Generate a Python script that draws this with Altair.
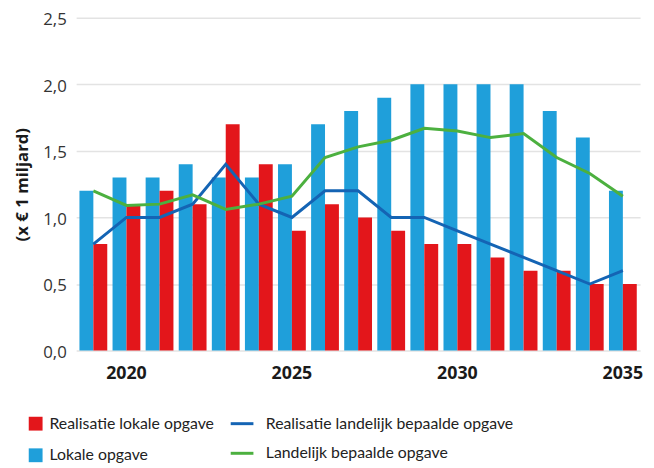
import altair as alt
import pandas as pd

years = list(range(2019, 2036))
lokale_opgave = [1.2, 1.3, 1.3, 1.4, 1.3, 1.3, 1.4, 1.7, 1.8, 1.9, 2.0, 2.0, 2.0, 2.0, 1.8, 1.6, 1.2]
realisatie_lokale = [0.8, 1.1, 1.2, 1.1, 1.7, 1.4, 0.9, 1.1, 1.0, 0.9, 0.8, 0.8, 0.7, 0.6, 0.6, 0.5, 0.5]
realisatie_landelijk = [0.8, 1.0, 1.0, 1.1, 1.4, 1.1, 1.0, 1.2, 1.2, 1.0, 1.0, 0.9, 0.8, 0.7, 0.6, 0.5, 0.6]
landelijk = [1.2, 1.09, 1.1, 1.17, 1.06, 1.1, 1.16, 1.45, 1.53, 1.58, 1.67, 1.65, 1.6, 1.63, 1.45, 1.33, 1.16]

bar_names = ["Realisatie lokale opgave", "Lokale opgave"]
bar_colors = ["#e3161b", "#1f9fda"]
line_names = ["Realisatie landelijk bepaalde opgave", "Landelijk bepaalde opgave"]
line_colors = ["#1464b4", "#4cb03f"]
tick_years = [2020, 2025, 2030, 2035]

bars = pd.DataFrame(
    [{"jaar": y, "reeks": bar_names[1], "waarde": v} for y, v in zip(years, lokale_opgave)]
    + [{"jaar": y, "reeks": bar_names[0], "waarde": v} for y, v in zip(years, realisatie_lokale)]
)
lines = pd.DataFrame(
    [{"jaar": y, "lijn": line_names[0], "waarde": v} for y, v in zip(years, realisatie_landelijk)]
    + [{"jaar": y, "lijn": line_names[1], "waarde": v} for y, v in zip(years, landelijk)]
)

FONT = "Open Sans"
LEGEND_FONT = "Lato"

x_enc = alt.X(
    "jaar:O",
    title=None,
    scale=alt.Scale(paddingInner=0.16, paddingOuter=0.1),
    axis=alt.Axis(
        values=tick_years, labelAngle=0, ticks=False, domain=False,
        labelFont=FONT, labelFontSize=18, labelFontWeight="bold",
        labelColor="#1a1a1a", labelPadding=14,
    ),
)
y_enc = alt.Y(
    "waarde:Q",
    title="(x € 1 miljard)",
    scale=alt.Scale(domain=[0, 2.5]),
    axis=alt.Axis(
        values=[0, 0.5, 1.0, 1.5, 2.0, 2.5],
        labelExpr="replace(format(datum.value, '.1f'), '.', ',')",
        ticks=False, domain=False, grid=True,
        gridColor="#e3e3e3", gridWidth=1.5,
        labelFont=FONT, labelFontSize=17, labelColor="#333333", labelPadding=10,
        labelBaseline="middle", labelOffset=2,
        titleFont=FONT, titleFontSize=17, titleFontWeight="bold", titleColor="#1a1a1a",
        titlePadding=11,
    ),
)

bar_layer = alt.Chart(bars).mark_bar().encode(
    x=x_enc,
    xOffset=alt.XOffset("reeks:N", sort=[bar_names[1], bar_names[0]],
                        scale=alt.Scale(paddingInner=0, paddingOuter=0)),
    y=y_enc,
    color=alt.Color(
        "reeks:N",
        scale=alt.Scale(domain=bar_names, range=bar_colors),
        legend=alt.Legend(
            title=None, orient="none", legendX=-49, legendY=403,
            symbolType="square", symbolSize=196, symbolStrokeWidth=0,
            labelFont=LEGEND_FONT, labelFontSize=16, labelColor="#222222",
            labelOffset=6, rowPadding=16, labelLimit=0,
        ),
    ),
)

line_layer = alt.Chart(lines).mark_line(strokeWidth=3).encode(
    x=x_enc,
    y=y_enc,
    stroke=alt.Stroke(
        "lijn:N",
        scale=alt.Scale(domain=line_names, range=line_colors),
        legend=alt.Legend(
            title=None, orient="none", legendX=155, legendY=398,
            symbolType="stroke", symbolSize=529, symbolStrokeWidth=3,
            labelFont=LEGEND_FONT, labelFontSize=16, labelColor="#222222",
            labelOffset=11, rowPadding=9, labelLimit=0,
        ),
    ),
)

chart = alt.layer(bar_layer, line_layer).properties(
    width=571,
    height=337,
    autosize=alt.AutoSizeParams(type="none"),
    padding={"left": 69, "top": 7, "right": 6, "bottom": 116},
).configure_view(stroke=None)

chart.save("out.html", embed_options={"renderer": "svg", "actions": False})
